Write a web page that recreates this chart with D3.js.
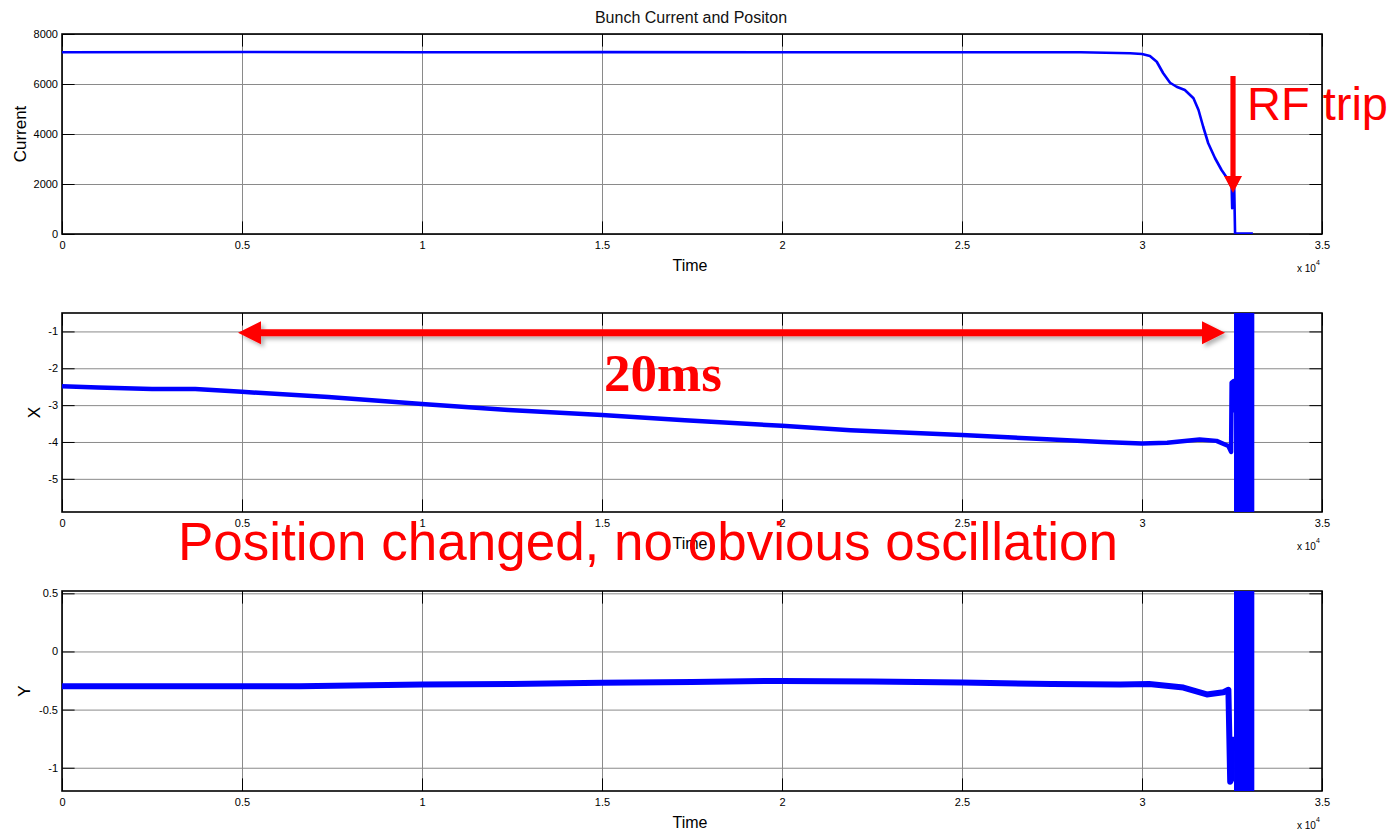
<!DOCTYPE html>
<html>
<head>
<meta charset="utf-8">
<script src="https://cdn.jsdelivr.net/npm/d3@7"></script>
<style>
  html, body { margin: 0; padding: 0; background: #fff; }
  svg { display: block; font-family: "Liberation Sans", Arial, sans-serif; }
</style>
</head>
<body>
<svg id="chart" width="1395" height="830"></svg>
<script>
// ---- data -------------------------------------------------------------
const timeTicks = [0, 5000, 10000, 15000, 20000, 25000, 30000, 35000];
const timeTickLabels = ["0", "0.5", "1", "1.5", "2", "2.5", "3", "3.5"];

// bunch current
const currentTime = [0, 5000, 10000, 15000, 20000, 25000, 28300, 29670, 30000, 30220, 30410,
  30590, 30780, 30960, 31190, 31430, 31570, 31700, 31840, 32030, 32210, 32400, 32490,
  32505, 32530, 32562, 32585, 33080];
const currentValue = [7270, 7280, 7270, 7275, 7270, 7270, 7268, 7230, 7200, 7120, 6890,
  6430, 6050, 5890, 5760, 5430, 4960, 4290, 3630, 3030, 2560, 2160, 1890,
  1030, 1100, 1830, 30, 20];
const currentTicks = [0, 2000, 4000, 6000, 8000];
const currentTickLabels = ["0", "2000", "4000", "6000", "8000"];

// horizontal position X
const xTime = [0, 1000, 2500, 3700, 5000, 7400, 10000, 12400, 15000, 17300, 20000, 21900,
  25000, 27500, 28900, 30000, 30700, 31600, 32070, 32400, 32475, 32490, 32540, 32556];
const xValue = [-2.49, -2.52, -2.56, -2.56, -2.64, -2.78, -2.97, -3.13, -3.27, -3.41, -3.56, -3.68,
  -3.81, -3.93, -4.00, -4.04, -4.02, -3.93, -3.97, -4.11, -4.27, -2.39, -2.35, -3.20];
const xTicks = [-5, -4, -3, -2, -1];
const xTickLabels = ["-5", "-4", "-3", "-2", "-1"];

// vertical position Y
const yTime = [0, 2500, 5000, 6600, 10000, 12500, 15000, 17500, 20000, 22500, 25000, 27500,
  29400, 30200, 31150, 31800, 32260, 32400, 32450, 32480, 32500, 32556];
const yValue = [-0.30, -0.30, -0.30, -0.30, -0.285, -0.28, -0.27, -0.262, -0.253, -0.258, -0.267, -0.28,
  -0.285, -0.28, -0.31, -0.37, -0.35, -0.33, -1.12, -1.10, -0.76, -0.76];
const yTicks = [-1, -0.5, 0, 0.5];
const yTickLabels = ["-1", "-0.5", "0", "0.5"];

// beam loss: oscillation envelope after the trip (exceeds the axis limits)
const lossTime = [32556, 33120];
const xLossUpper = [1.0, 1.0];
const xLossLower = [-7.5, -7.5];
const yLossUpper = [1.0, 1.0];
const yLossLower = [-1.8, -1.8];

// ---- layout -----------------------------------------------------------
const svg = d3.select("#chart");
const plotLeft = 62, plotRight = 1322;
const tickLen = 12.6;

const t = d3.scaleLinear().domain([0, 35000]).range([plotLeft, plotRight]);

const panels = [
  { id: "cur", top: 34, bottom: 234, domain: [0, 8000], ticks: currentTicks, labels: currentTickLabels,
    ylabel: "Current", ylabelX: 26, time: currentTime, value: currentValue, width: 2.6 },
  { id: "x", top: 313, bottom: 512, domain: [-5.9, -0.5], ticks: xTicks, labels: xTickLabels,
    ylabel: "X", ylabelX: 40, time: xTime, value: xValue, width: 4.5,
    loss: { upper: xLossUpper, lower: xLossLower } },
  { id: "y", top: 591, bottom: 791, domain: [-1.2, 0.52], ticks: yTicks, labels: yTickLabels,
    ylabel: "Y", ylabelX: 30, time: yTime, value: yValue, width: 6,
    loss: { upper: yLossUpper, lower: yLossLower } }
];

const defs = svg.append("defs");
const shadow = defs.append("filter").attr("id", "soft-shadow")
  .attr("x", "-5%").attr("y", "-50%").attr("width", "110%").attr("height", "200%");
shadow.append("feDropShadow").attr("dx", 3).attr("dy", 3).attr("stdDeviation", 2)
  .attr("flood-color", "#000").attr("flood-opacity", 0.3);

svg.append("text").attr("x", 691).attr("y", 23).attr("text-anchor", "middle")
  .attr("font-size", 16).attr("fill", "#111").text("Bunch Current and Positon");

panels.forEach(p => {
  const y = d3.scaleLinear().domain(p.domain).range([p.bottom, p.top]);
  p.y = y;
  const h = p.bottom - p.top;
  const g = svg.append("g");

  defs.append("clipPath").attr("id", "clip-" + p.id)
    .append("rect").attr("x", plotLeft).attr("y", p.top)
    .attr("width", plotRight - plotLeft).attr("height", h);

  // grid
  g.append("g").attr("transform", `translate(0,${p.bottom})`)
    .call(d3.axisBottom(t).tickValues(timeTicks).tickSize(-h).tickFormat(""))
    .call(s => s.select(".domain").remove())
    .call(s => s.selectAll("line").attr("stroke", "#8a8a8a").attr("stroke-width", 1));
  g.append("g").attr("transform", `translate(${plotLeft},0)`)
    .call(d3.axisLeft(y).tickValues(p.ticks).tickSize(-(plotRight - plotLeft)).tickFormat(""))
    .call(s => s.select(".domain").remove())
    .call(s => s.selectAll("line").attr("stroke", "#8a8a8a").attr("stroke-width", 1));

  // inward ticks on all four sides
  const bottomAxis = g.append("g").attr("transform", `translate(0,${p.bottom})`)
    .call(d3.axisBottom(t).tickValues(timeTicks).tickSize(-tickLen).tickPadding(7)
      .tickFormat((d, i) => timeTickLabels[i]));
  g.append("g").attr("transform", `translate(0,${p.top})`)
    .call(d3.axisTop(t).tickValues(timeTicks).tickSize(-tickLen).tickFormat(""));
  const leftAxis = g.append("g").attr("transform", `translate(${plotLeft},0)`)
    .call(d3.axisLeft(y).tickValues(p.ticks).tickSize(-tickLen).tickPadding(4)
      .tickFormat((d, i) => p.labels[i]));
  g.append("g").attr("transform", `translate(${plotRight},0)`)
    .call(d3.axisRight(y).tickValues(p.ticks).tickSize(-tickLen).tickFormat(""));
  g.selectAll(".domain").remove();
  g.selectAll(".tick line").filter(function () { return this.getAttribute("stroke") === "currentColor"; })
    .attr("stroke", "#000").attr("stroke-width", 1);
  g.selectAll(".tick text").attr("font-family", "'Liberation Sans', Arial, sans-serif")
    .attr("font-size", 11).attr("fill", "#000");

  // box
  g.append("rect").attr("x", plotLeft).attr("y", p.top)
    .attr("width", plotRight - plotLeft).attr("height", h)
    .attr("fill", "none").attr("stroke", "#000").attr("stroke-width", 1.6);

  // axis labels
  g.append("text").attr("x", 690).attr("y", p.bottom + 37).attr("text-anchor", "middle")
    .attr("font-size", 16).attr("fill", "#000").text("Time");
  const ex = g.append("text").attr("x", 1297).attr("y", p.bottom + 38)
    .attr("font-size", 10).attr("fill", "#000");
  ex.append("tspan").text("x 10");
  ex.append("tspan").attr("dy", -7).attr("font-size", 7).text("4");
  g.append("text").attr("transform", `translate(${p.ylabelX},${(p.top + p.bottom) / 2}) rotate(-90)`)
    .attr("text-anchor", "middle").attr("font-size", 17).attr("fill", "#000").text(p.ylabel);

  // trace
  const data = p.time.map((d, i) => [d, p.value[i]]);
  const line = d3.line().x(d => t(d[0])).y(d => y(d[1]));
  const dg = svg.append("g").attr("clip-path", `url(#clip-${p.id})`);
  dg.append("path").datum(data).attr("d", line)
    .attr("fill", "none").attr("stroke", "#0000ff").attr("stroke-width", p.width)
    .attr("stroke-linejoin", "round").attr("stroke-linecap", "butt");

  if (p.loss) {
    const band = lossTime.map((d, i) => ({ t: d, hi: p.loss.upper[i], lo: p.loss.lower[i] }));
    dg.append("path").datum(band)
      .attr("d", d3.area().x(d => t(d.t)).y0(d => y(d.lo)).y1(d => y(d.hi)))
      .attr("fill", "#0000ff");
  }
});

// ---- annotations ------------------------------------------------------
const red = "#ff0000";
const cur = panels[0], px = panels[1];

// RF trip arrow and label
const ax = t(32528), aTop = cur.y(6320), aTip = cur.y(1640);
svg.append("path")
  .attr("d", `M${ax - 2.6},${aTop} L${ax + 2.6},${aTop} L${ax + 2.6},${aTip - 17} L${ax + 9},${aTip - 17}
              L${ax},${aTip} L${ax - 9},${aTip - 17} L${ax - 2.6},${aTip - 17} Z`)
  .attr("fill", red);
svg.append("text").attr("x", t(32917)).attr("y", cur.y(4560))
  .attr("font-size", 47).attr("fill", red).text("RF trip");

// 20 ms span arrow
const hy = px.y(-1.035), xl = t(4889), xr = t(32306), hl = 23, hw = 11.5, sw = 3.5;
svg.append("path")
  .attr("d", `M${xl},${hy} L${xl + hl},${hy - hw} L${xl + hl},${hy - sw} L${xr - hl},${hy - sw}
              L${xr - hl},${hy - hw} L${xr},${hy} L${xr - hl},${hy + hw} L${xr - hl},${hy + sw}
              L${xl + hl},${hy + sw} L${xl + hl},${hy + hw} Z`)
  .attr("fill", red).attr("filter", "url(#soft-shadow)");
svg.append("text").attr("x", t(15056)).attr("y", px.y(-2.63))
  .attr("font-family", "'Liberation Serif', 'Times New Roman', serif").attr("font-weight", "bold")
  .attr("font-size", 53).attr("fill", red).text("20ms");

svg.append("text").attr("x", t(3222)).attr("y", px.bottom + 48)
  .attr("font-size", 53).attr("fill", red).text("Position changed, no obvious oscillation");
</script>
</body>
</html>
